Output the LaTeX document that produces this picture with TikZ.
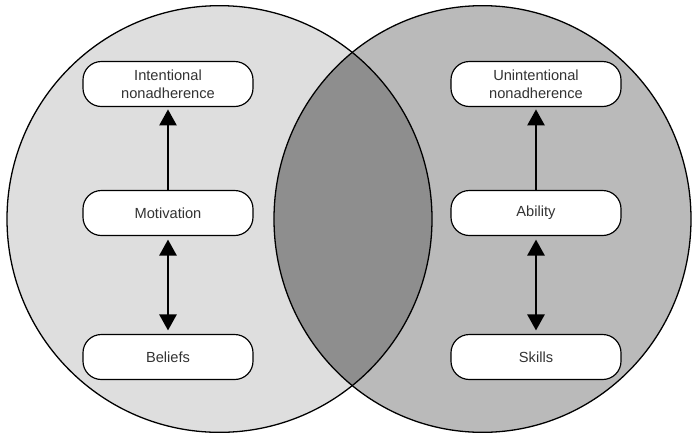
\documentclass[tikz,border=0pt]{standalone}
\usepackage{fontspec}
\setmainfont{Liberation Sans}
\usetikzlibrary{arrows.meta}
\definecolor{leftgray}{HTML}{DEDEDE}
\definecolor{rightgray}{HTML}{BABABA}
\definecolor{lensgray}{HTML}{8E8E8E}
\definecolor{textgray}{HTML}{333333}
\tikzset{
  factor/.style={
    rectangle,
    rounded corners=0.55cm,
    minimum width=5.1cm,
    minimum height=1.35cm,
    align=center,
    draw=black,
    line width=1pt,
    fill=white,
    text=textgray,
    font=\fontsize{12.5}{15.5}\selectfont
    },
  arrow/.style={line width=1.4pt,-{Triangle[length=0.48cm,width=0.52cm]}},
  dblarrow/.style={line width=1.4pt,{Triangle[length=0.48cm,width=0.52cm]}-{Triangle[length=0.48cm,width=0.52cm]}},
}

\begin{document}
\begin{tikzpicture}[x=0.03cm,y=-0.03cm]
\useasboundingbox (0,0) rectangle (693,435);
% the two sets
\fill[leftgray] (219.5,219) ellipse [x radius=6.375cm, y radius=6.4cm];
\fill[rightgray] (482.5,219) ellipse [x radius=6.255cm, y radius=6.4cm];
\begin{scope}
  \clip (219.5,219) ellipse [x radius=6.375cm, y radius=6.4cm];
  \fill[lensgray] (482.5,219) ellipse [x radius=6.255cm, y radius=6.4cm];
\end{scope}
\draw[line width=1.1pt] (219.5,219) ellipse [x radius=6.375cm, y radius=6.4cm];
\draw[line width=1.1pt] (482.5,219) ellipse [x radius=6.255cm, y radius=6.4cm];

% left side
\node (intent) [factor] at (168,84) {Intentional\\nonadherence};
\node (motiv) [factor] at (168,213) {Motivation};
\node (belief) [factor] at (168,357) {Beliefs};
% right side
\node (unintent) [factor] at (536,84) {Unintentional\\nonadherence};
\node (ability) [factor] at (536,213) {Ability};
\node (skills) [factor] at (536,357) {Skills};

\draw[arrow,shorten >=2pt] (motiv) -- (intent);
\draw[dblarrow,shorten >=3pt,shorten <=3pt] (motiv) -- (belief);
\draw[arrow,shorten >=2pt] (ability) -- (unintent);
\draw[dblarrow,shorten >=3pt,shorten <=3pt] (ability) -- (skills);
\end{tikzpicture}
\end{document}
